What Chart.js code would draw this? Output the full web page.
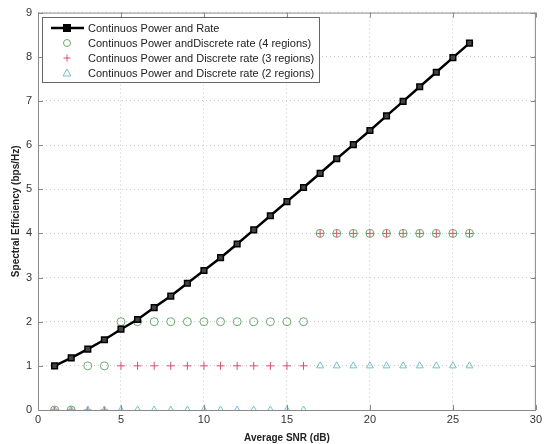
<!DOCTYPE html>
<html>
<head>
<meta charset="utf-8">
<script src="https://cdn.jsdelivr.net/npm/chart.js@4.4.0/dist/chart.umd.min.js"></script>
<style>
  html, body { margin: 0; padding: 0; background: #fff; }
  #wrap { width: 545px; height: 444px; }
</style>
</head>
<body>
<div id="wrap"><canvas id="chart"></canvas></div>
<script>
const snr = [1, 2, 3, 4, 5, 6, 7, 8, 9, 10, 11, 12, 13, 14, 15, 16, 17, 18, 19, 20, 21, 22, 23, 24, 25, 26];
const continuousRate = [1.0, 1.18, 1.38, 1.59, 1.83, 2.05, 2.32, 2.58, 2.87, 3.16, 3.45, 3.76, 4.08, 4.40, 4.72, 5.04, 5.36, 5.69, 6.01, 6.33, 6.66, 6.99, 7.32, 7.65, 7.98, 8.31];
const discrete4 = [0, 0, 1, 1, 2, 2, 2, 2, 2, 2, 2, 2, 2, 2, 2, 2, 4, 4, 4, 4, 4, 4, 4, 4, 4, 4];
const discrete3 = [0, 0, 0, 0, 1, 1, 1, 1, 1, 1, 1, 1, 1, 1, 1, 1, 4, 4, 4, 4, 4, 4, 4, 4, 4, 4];
const discrete2 = [0, 0, 0, 0, 0, 0, 0, 0, 0, 0, 0, 0, 0, 0, 0, 0, 1, 1, 1, 1, 1, 1, 1, 1, 1, 1];
const seriesLabels = [
    "Continuos Power and Rate",
    "Continuos Power andDiscrete rate (4 regions)",
    "Continuos Power and Discrete rate (3 regions)",
    "Continuos Power and Discrete rate (2 regions)"
];
const xTicks = [0, 5, 10, 15, 20, 25, 30];
const yTicks = [0, 1, 2, 3, 4, 5, 6, 7, 8, 9];

const green = '#6aaa6a';
const red = '#d8506a';
const cyan = '#72c2c8';

function toPoints(values) {
    return snr.map((x, i) => ({ x: x, y: values[i] }));
}

// legend box inside the plot, matlab style
const boxLegend = {
    id: 'boxLegend',
    afterDraw(chart) {
        const ctx = chart.ctx;
        const area = chart.chartArea;
        ctx.save();
        // frame + inward ticks
        ctx.strokeStyle = '#8a8a8a';
        ctx.lineWidth = 1;
        ctx.strokeRect(area.left + 0.5, area.top + 0.5, area.right - area.left - 1, area.bottom - area.top);
        const xs = chart.scales.x, ys = chart.scales.y;
        ctx.beginPath();
        xTicks.forEach(v => {
            const px = Math.round(xs.getPixelForValue(v)) + 0.5;
            ctx.moveTo(px, area.bottom); ctx.lineTo(px, area.bottom - 5);
            ctx.moveTo(px, area.top); ctx.lineTo(px, area.top + 5);
        });
        yTicks.forEach(v => {
            const py = Math.round(ys.getPixelForValue(v)) + 0.5;
            ctx.moveTo(area.left, py); ctx.lineTo(area.left + 5, py);
            ctx.moveTo(area.right, py); ctx.lineTo(area.right - 5, py);
        });
        ctx.stroke();

        const bx = 42, by = 17, bw = 277, bh = 65;
        ctx.fillStyle = '#fff';
        ctx.fillRect(bx, by, bw, bh);
        ctx.strokeStyle = '#666';
        ctx.strokeRect(bx + 0.5, by + 0.5, bw, bh);
        ctx.font = '11px "Liberation Sans", Arial, sans-serif';
        ctx.textBaseline = 'middle';
        const rows = [28, 43, 58, 73];
        rows.forEach((ry, i) => {
            const mx = 67;
            if (i === 0) {
                ctx.strokeStyle = '#000';
                ctx.lineWidth = 2.5;
                ctx.beginPath(); ctx.moveTo(51, ry); ctx.lineTo(84, ry); ctx.stroke();
                ctx.fillStyle = '#000';
                ctx.fillRect(mx - 4, ry - 4, 8, 8);
            } else if (i === 1) {
                ctx.strokeStyle = green; ctx.lineWidth = 1;
                ctx.beginPath(); ctx.arc(mx, ry, 3.5, 0, Math.PI * 2); ctx.stroke();
            } else if (i === 2) {
                ctx.strokeStyle = red; ctx.lineWidth = 1;
                ctx.beginPath(); ctx.moveTo(mx - 3.5, ry); ctx.lineTo(mx + 3.5, ry);
                ctx.moveTo(mx, ry - 3.5); ctx.lineTo(mx, ry + 3.5); ctx.stroke();
            } else {
                ctx.strokeStyle = cyan; ctx.lineWidth = 1;
                ctx.beginPath(); ctx.moveTo(mx, ry - 4); ctx.lineTo(mx + 4, ry + 3); ctx.lineTo(mx - 4, ry + 3); ctx.closePath(); ctx.stroke();
            }
            ctx.fillStyle = '#222';
            ctx.fillText(seriesLabels[i], 88, ry + 0.5);
        });
        ctx.restore();
    }
};

const ctx = document.getElementById('chart').getContext('2d');
new Chart(ctx, {
    type: 'line',
    data: {
        datasets: [{
            label: seriesLabels[0],
            data: toPoints(continuousRate),
            borderColor: '#000',
            borderWidth: 2.5,
            pointStyle: 'rect',
            pointRadius: 4,
            pointBackgroundColor: '#444',
            pointBorderColor: '#000',
            pointBorderWidth: 1.5,
            tension: 0,
            order: 0
        }, {
            label: seriesLabels[1],
            data: toPoints(discrete4),
            showLine: false,
            pointStyle: 'circle',
            pointRadius: 4,
            pointBackgroundColor: 'rgba(0,0,0,0)',
            pointBorderColor: green,
            pointBorderWidth: 1,
            order: 3
        }, {
            label: seriesLabels[2],
            data: toPoints(discrete3),
            showLine: false,
            pointStyle: 'cross',
            pointRadius: 4,
            pointBorderColor: red,
            pointBorderWidth: 1,
            order: 2
        }, {
            label: seriesLabels[3],
            data: toPoints(discrete2),
            showLine: false,
            pointStyle: 'triangle',
            pointRadius: 4,
            pointBackgroundColor: 'rgba(0,0,0,0)',
            pointBorderColor: cyan,
            pointBorderWidth: 1,
            order: 1
        }]
    },
    options: {
        responsive: true,
        maintainAspectRatio: false,
        animation: false,
        layout: { padding: { top: 12, right: 2, left: 0, bottom: 0 } },
        plugins: {
            legend: { display: false },
            tooltip: { enabled: false }
        },
        scales: {
            x: {
                type: 'linear',
                min: 0,
                max: 30,
                afterBuildTicks: axis => { axis.ticks = xTicks.map(v => ({ value: v })); },
                afterFit: axis => { axis.height = 34; },
                grid: { color: '#c8c8c8', drawTicks: false },
                border: { display: false, dash: [1, 3] },
                ticks: { padding: 3, color: '#333', font: { family: '"Liberation Sans", Arial, sans-serif', size: 11 } },
                title: {
                    display: true,
                    text: 'Average SNR (dB)',
                    color: '#222',
                    padding: { top: 0, bottom: 0 },
                    font: { family: '"Liberation Sans", Arial, sans-serif', size: 10, weight: 'bold' }
                }
            },
            y: {
                min: 0,
                max: 9,
                afterBuildTicks: axis => { axis.ticks = yTicks.map(v => ({ value: v })); },
                afterFit: axis => { axis.width = 38; },
                grid: { color: '#c8c8c8', drawTicks: false },
                border: { display: false, dash: [1, 3] },
                ticks: { padding: 6, color: '#333', font: { family: '"Liberation Sans", Arial, sans-serif', size: 11 } },
                title: {
                    display: true,
                    text: 'Spectral Efficiency (bps/Hz)',
                    color: '#222',
                    padding: { top: 10, bottom: 0 },
                    font: { family: '"Liberation Sans", Arial, sans-serif', size: 10, weight: 'bold' }
                }
            }
        }
    },
    plugins: [boxLegend]
});
</script>
</body>
</html>
